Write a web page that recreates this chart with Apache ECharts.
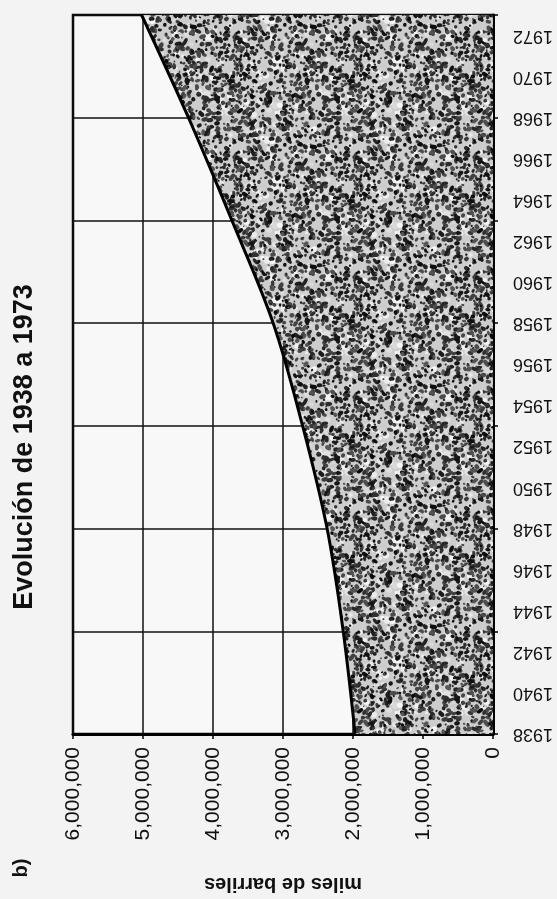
<!DOCTYPE html>
<html>
<head>
<meta charset="utf-8">
<script src="https://cdn.jsdelivr.net/npm/echarts@6/dist/echarts.min.js"></script>
<style>
html,body{margin:0;padding:0;background:#f3f3f3;}
#c{width:557px;height:899px;}
</style>
</head>
<body>
<div id="c"></div>
<script>
// ---- data ----
const yearCategories = ['1938','1939','1940','1941','1942','1943','1944','1945','1946','1947','1948','1949',
  '1950','1951','1952','1953','1954','1955','1956','1957','1958','1959','1960','1961','1962','1963',
  '1964','1965','1966','1967','1968','1969','1970','1971','1972','1973'];
const curveYears = ['1938', '1943', '1948', '1953', '1958', '1963', '1968', '1973'];
const production = [1970000, 2140000, 2370000, 2720000, 3140000, 3730000, 4350000, 5020000];
const titleText = 'Evolución de 1938 a 1973';
const axisName = 'miles de barriles';
const panelLabel = 'b)';

// ---- stipple texture for the shaded area ----
function makeTexture() {
  const size = 120;
  const cv = document.createElement('canvas');
  cv.width = size; cv.height = size;
  const ctx = cv.getContext('2d');
  ctx.fillStyle = '#cdcdcd';
  ctx.fillRect(0, 0, size, size);
  let s = 987654321;
  const rnd = () => { s = (Math.imul(s, 1664525) + 1013904223) >>> 0; return s / 4294967296; };
  // light mottling
  for (let i = 0; i < 260; i++) {
    const x = rnd() * size, y = rnd() * size;
    const g = Math.floor(205 + rnd() * 45);
    ctx.fillStyle = 'rgb(' + g + ',' + g + ',' + g + ')';
    for (const dx of [-size, 0, size]) for (const dy of [-size, 0, size]) {
      ctx.beginPath();
      ctx.arc(x + dx, y + dy, 1.2 + rnd() * 2.5, 0, Math.PI * 2);
      ctx.fill();
    }
  }
  // dark specks
  for (let i = 0; i < 750; i++) {
    const x = rnd() * size, y = rnd() * size;
    const r = 0.8 + rnd() * 1.5;
    const g = Math.floor(10 + rnd() * 80);
    const rx = r * (0.8 + rnd() * 1.1), ang = rnd() * Math.PI;
    ctx.fillStyle = 'rgb(' + g + ',' + g + ',' + g + ')';
    for (const dx of [-size, 0, size]) for (const dy of [-size, 0, size]) {
      ctx.beginPath();
      ctx.ellipse(x + dx, y + dy, rx, r, ang, 0, Math.PI * 2);
      ctx.fill();
    }
  }
  return cv;
}
const tex = makeTexture();

const FONT = '"Liberation Sans", Arial, sans-serif';
const chart = echarts.init(document.getElementById('c'));
chart.setOption({
  backgroundColor: '#f3f3f3',
  animation: false,
  grid: {left: 73, right: 64, top: 15, bottom: 162, show: true, backgroundColor: '#f8f8f8',
         borderColor: '#000', borderWidth: 2.5},
  xAxis: {
    type: 'value', min: 0, max: 6000000, interval: 1000000, inverse: true, position: 'bottom',
    name: axisName, nameLocation: 'middle', nameGap: 140, nameRotate: 180,
    nameTextStyle: {fontFamily: FONT, fontWeight: 'bold', fontSize: 20, color: '#111'},
    axisLine: {show: true, lineStyle: {color: '#000', width: 3}},
    axisTick: {show: true, length: 5, lineStyle: {color: '#000', width: 1.5}},
    axisLabel: {rotate: 90, fontFamily: FONT, fontSize: 21, color: '#111', margin: 13,
                formatter: v => v.toLocaleString('en-US')},
    splitLine: {show: true, lineStyle: {color: '#111', width: 1.5}}
  },
  yAxis: {
    type: 'category', data: yearCategories, boundaryGap: false, position: 'right',
    axisLine: {show: true, lineStyle: {color: '#000', width: 3}},
    axisTick: {show: true, interval: 4, length: 5, lineStyle: {color: '#000', width: 1.5}},
    axisLabel: {interval: 1, rotate: 180, fontFamily: FONT, fontSize: 18, color: '#111', margin: 20},
    splitLine: {show: true, interval: 4, lineStyle: {color: '#111', width: 1.5}}
  },
  series: [{
    type: 'line',
    data: curveYears.map((y, i) => [production[i], y]),
    smooth: 0.35,
    symbol: 'none',
    lineStyle: {color: '#000', width: 3},
    areaStyle: {color: {image: tex, repeat: 'repeat'}, opacity: 1},
    z: 3
  }],
  graphic: [
    {type: 'text', x: 25, y: 447, rotation: Math.PI / 2,
     style: {text: titleText, fontFamily: FONT, fontWeight: 'bold', fontSize: 27, fill: '#111',
             textAlign: 'center', textVerticalAlign: 'middle', align: 'center', verticalAlign: 'middle'}},
    {type: 'text', x: 21, y: 868, rotation: Math.PI / 2,
     style: {text: panelLabel, fontFamily: FONT, fontWeight: 'bold', fontSize: 20, fill: '#111',
             textAlign: 'center', textVerticalAlign: 'middle', align: 'center', verticalAlign: 'middle'}}
  ]
});
</script>
</body>
</html>
